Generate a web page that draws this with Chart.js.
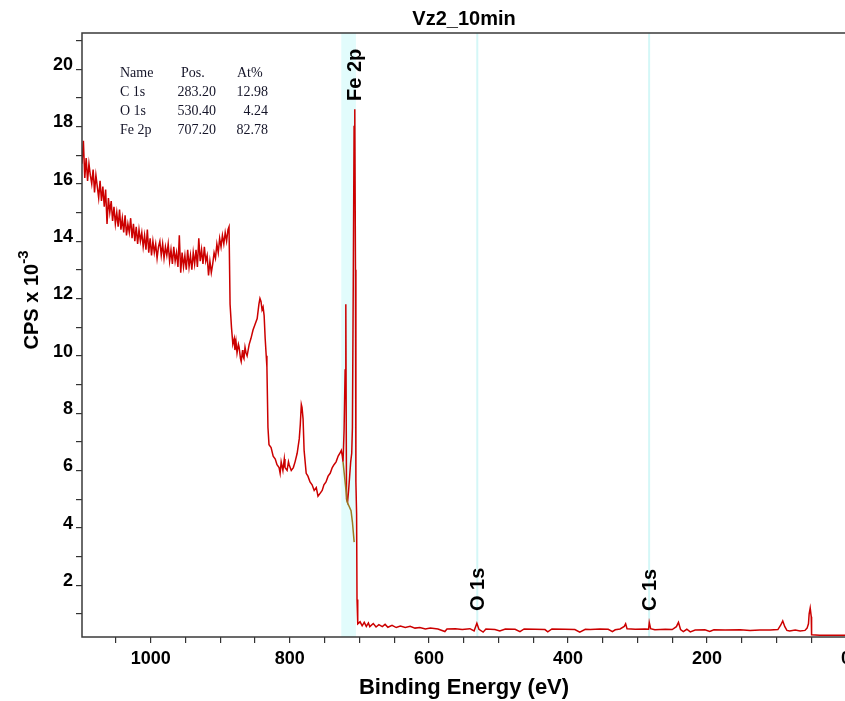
<!DOCTYPE html>
<html>
<head>
<meta charset="utf-8">
<script src="https://cdn.jsdelivr.net/npm/chart.js@4.4.1/dist/chart.umd.min.js"></script>
<style>
  html, body { margin: 0; padding: 0; background: #fff; overflow: hidden; }
  #wrap { position: relative; width: 846px; height: 701px; }
</style>
</head>
<body>
<div id="wrap"><canvas id="xpsChart"></canvas></div>
<script>
// survey spectrum, binding energy (eV) and CPS x 10^-3
const energy = [
  1099, 1097, 1095, 1093, 1091, 1089, 1087, 1085, 1083, 1081, 1079, 1077, 1075, 1073, 1071, 1069,
  1067, 1065, 1063, 1061, 1059, 1057, 1055, 1053, 1051, 1049, 1047, 1045, 1043, 1041, 1039, 1037,
  1035, 1033, 1031, 1029, 1027, 1025, 1023, 1021, 1019, 1017, 1015, 1013, 1011, 1009, 1007, 1005,
  1003, 1001, 999, 997, 995, 993, 991, 989, 987, 985, 983, 981, 979, 977, 975, 973, 971, 969,
  967, 965, 963, 961, 959, 957, 955, 953, 951, 949, 947, 945, 943, 941, 939, 937, 935, 933, 931,
  929, 927, 925, 923, 921, 919, 917, 915, 913, 911, 909, 907, 905, 903, 901, 899, 897, 895, 893,
  891, 889, 887.5, 886, 884, 882, 880, 879, 877.5, 876, 874, 873, 871, 870, 868, 867.5,
  866, 864.5, 863, 861.5, 858.5, 856, 853, 850, 847, 844.5, 843, 841.5, 840, 838.5, 837, 835.5, 834, 833,
  831.5, 830, 827, 824, 821, 818.5, 815.5, 814, 812.5, 810, 808, 807, 804, 802, 801, 798, 795, 792.5, 789.5, 786.5,
  785, 783.5, 782.5, 781, 779.5, 776.5, 774, 771, 768, 765, 762, 759.5, 756.5, 753.5, 751, 748, 745,
  742, 739, 736.5, 733.5, 730.5, 728, 726, 724.5, 723.5, 722, 720.5, 719.5, 718.5, 717, 715.5, 714,
  712.5, 711, 710, 708.8, 707.6, 706.6, 705.6, 705, 704, 703.4, 702.7, 702, 699, 696, 693, 690, 687,
  685, 680, 676, 672, 667, 663, 659, 653, 647, 641, 634, 627, 620, 613, 605, 598, 587, 577, 574, 562,
  552, 541, 535, 531, 528, 522, 518, 505, 498, 490, 476, 469, 463, 447, 433, 429, 423, 404, 390, 383,
  375, 368, 354, 342, 336, 332, 325, 319, 317, 315, 303, 289, 284, 283, 281, 275, 260, 250, 244, 241,
  238, 234, 229, 224, 217, 203, 196, 190, 174, 152, 138, 124, 109, 98, 94, 91, 88, 85, 81, 73, 66,
  59, 56, 54, 53, 51.5, 50, 49.5, 38, 0
];
const cps = [
  16.7, 17.5, 16.2, 16.9, 16.1, 16.7, 16.3, 16.0, 16.5, 15.7, 16.3, 15.9, 15.5, 16.1, 15.4, 15.9,
  15.2, 15.8, 14.6, 15.5, 15.0, 15.4, 14.7, 15.2, 14.6, 15.0, 14.5, 15.1, 14.4, 14.8, 14.3, 14.9,
  14.2, 14.6, 14.3, 14.8, 14.1, 14.6, 14.0, 14.5, 13.9, 14.4, 14.0, 14.3, 13.8, 14.2, 13.7, 14.4,
  13.6, 14.1, 13.5, 14.0, 13.6, 13.9, 13.4, 13.8, 14.0, 13.5, 13.9, 13.4, 13.8, 13.5, 13.9, 13.3, 13.7, 13.2,
  13.8, 13.3, 13.6, 13.1, 14.2, 12.9, 13.6, 13.1, 13.5, 13.0, 13.7, 13.1, 13.5, 13.0, 13.6, 13.2, 13.7, 13.1, 14.1,
  13.3, 13.7, 13.2, 13.8, 13.3, 13.5, 12.8, 13.3, 12.9, 13.2, 13.6, 13.4, 13.9, 13.6, 14.1, 13.8, 14.2, 13.9, 14.3,
  14.0, 14.4, 14.5, 11.8, 11.0, 10.4, 10.6, 10.2, 10.5, 10.1, 10.4, 10.3, 9.9, 9.8, 10.2, 10.0,
  9.9, 10.3, 10.1, 10.0, 10.4, 10.6, 10.9, 11.1, 11.3, 11.8, 12.0, 11.9, 11.6, 11.7, 11.4, 10.6, 10.0, 9.6,
  7.5, 6.9, 6.8, 6.5, 6.4, 6.2, 6.1, 5.9, 6.3, 6.0, 6.4, 6.1, 6.0, 6.3, 6.2, 6.0, 6.1, 6.3, 6.6, 7.1,
  7.6, 8.3, 8.2, 7.8, 6.7, 5.9, 5.8, 5.6, 5.5, 5.3, 5.4, 5.1, 5.2, 5.3, 5.5, 5.6, 5.8,
  5.9, 6.1, 6.2, 6.3, 6.5, 6.6, 6.7, 6.5, 6.3, 7.4, 9.5, 11.8, 5.0, 4.9, 5.3, 5.8,
  6.3, 6.6, 7.5, 12.5, 18.0, 18.6, 13.0, 5.6, 4.5, 1.5, 0.8, 0.65, 0.72, 0.58, 0.70, 0.56, 0.68,
  0.55, 0.66, 0.54, 0.62, 0.55, 0.63, 0.53, 0.60, 0.52, 0.57, 0.52, 0.56, 0.50, 0.52, 0.47, 0.50, 0.47, 0.38, 0.47, 0.48,
  0.45, 0.48, 0.40, 0.67, 0.46, 0.36, 0.47, 0.45, 0.40, 0.47, 0.46, 0.38, 0.47, 0.46, 0.45, 0.37, 0.47, 0.46, 0.45, 0.36,
  0.46, 0.45, 0.47, 0.46, 0.38, 0.44, 0.47, 0.56, 0.65, 0.48, 0.46, 0.47, 0.46, 0.70, 0.48, 0.44, 0.46, 0.45, 0.55, 0.70,
  0.45, 0.38, 0.46, 0.37, 0.43, 0.44, 0.38, 0.44, 0.43, 0.44, 0.42, 0.43, 0.43, 0.45, 0.60, 0.75, 0.55, 0.42, 0.40, 0.43, 0.40,
  0.42, 0.50, 0.65, 1.0, 1.2, 0.9, 0.27, 0.25, 0.25
];

// Fe 2p background line (olive)
const bgEnergy = [723.5, 717.5, 712, 710, 707.5];
const bgCps = [6.3, 4.9, 4.6, 4.2, 3.5];

// quantification table
const peakNames = ['C 1s', 'O 1s', 'Fe 2p'];
const peakPos = [283.20, 530.40, 707.20];
const peakAt = [12.98, 4.24, 82.78];
const fe2pRegion = [705, 726];

const xTickLabels = [0, 200, 400, 600, 800, 1000];
const yTickLabels = [2, 4, 6, 8, 10, 12, 14, 16, 18, 20];

const FONT = "'Liberation Sans', Arial, sans-serif";
const SERIF = "'Liberation Serif', 'Times New Roman', serif";

const decor = {
  id: 'decor',
  beforeDatasetsDraw(chart) {
    const { ctx, chartArea: a, scales: { x } } = chart;
    ctx.save();
    const b0 = x.getPixelForValue(fe2pRegion[1]);
    const b1 = x.getPixelForValue(fe2pRegion[0]);
    ctx.fillStyle = '#e2fcfc';
    ctx.fillRect(b0, a.top, b1 - b0, a.bottom - a.top);
    ctx.strokeStyle = '#d4f7f7';
    ctx.lineWidth = 2;
    [peakPos[0], peakPos[1]].forEach(p => {
      const px = x.getPixelForValue(p);
      ctx.beginPath();
      ctx.moveTo(px, a.top);
      ctx.lineTo(px, a.bottom);
      ctx.stroke();
    });
    ctx.restore();
  },
  afterDatasetsDraw(chart) {
    const { ctx, chartArea: a, scales: { x } } = chart;
    ctx.save();

    // peak labels, written upwards
    const labelBase = [611, 611, 101];
    ctx.fillStyle = '#000';
    ctx.font = 'bold 20px ' + FONT;
    ctx.textAlign = 'left';
    ctx.textBaseline = 'middle';
    peakNames.forEach((name, i) => {
      ctx.save();
      ctx.translate(x.getPixelForValue(peakPos[i]) + 1, labelBase[i]);
      ctx.rotate(-Math.PI / 2);
      ctx.fillText(name, 0, 0);
      ctx.restore();
    });

    // table top-left
    ctx.font = '14px ' + SERIF;
    ctx.fillStyle = '#141428';
    ctx.textBaseline = 'middle';
    ctx.textAlign = 'left';
    ctx.fillText('Name', 120, 73);
    ctx.fillText('Pos.', 181, 73);
    ctx.fillText('At%', 237, 73);
    peakNames.forEach((name, i) => {
      const y = 92 + i * 19;
      ctx.textAlign = 'left';
      ctx.fillText(name, 120, y);
      ctx.textAlign = 'right';
      ctx.fillText(peakPos[i].toFixed(2), 216, y);
      ctx.fillText(peakAt[i].toFixed(2), 268, y);
    });

    // frame
    ctx.strokeStyle = '#3a3a3a';
    ctx.lineWidth = 1.5;
    ctx.strokeRect(a.left, a.top, a.right - a.left, a.bottom - a.top);
    ctx.restore();
  },
  afterDraw(chart) {
    const { ctx, chartArea: a } = chart;
    ctx.save();
    ctx.fillStyle = '#000';
    // title over the plot area
    ctx.font = 'bold 20px ' + FONT;
    ctx.textAlign = 'center';
    ctx.textBaseline = 'middle';
    ctx.fillText('Vz2_10min', (a.left + a.right) / 2, 19);

    // y title with superscript
    const main = 'CPS x 10', sup = '-3';
    ctx.font = 'bold 20px ' + FONT;
    const wMain = ctx.measureText(main).width;
    ctx.font = 'bold 15px ' + FONT;
    const wSup = ctx.measureText(sup).width;
    ctx.translate(32, 300);
    ctx.rotate(-Math.PI / 2);
    ctx.textAlign = 'left';
    const start = -(wMain + wSup) / 2;
    ctx.font = 'bold 20px ' + FONT;
    ctx.fillText(main, start, 0);
    ctx.font = 'bold 15px ' + FONT;
    ctx.fillText(sup, start + wMain, -8);
    ctx.restore();
  }
};

const tickFont = { family: FONT, size: 18, weight: 'bold' };

new Chart(document.getElementById('xpsChart').getContext('2d'), {
  type: 'line',
  data: {
    datasets: [{
      label: 'background',
      data: bgEnergy.map((e, i) => ({ x: e, y: bgCps[i] })),
      borderColor: '#9a7a22',
      borderWidth: 1.5,
      pointRadius: 0,
      order: 0
    }, {
      label: 'Vz2_10min',
      data: energy.map((e, i) => ({ x: e, y: cps[i] })),
      borderColor: '#cc0000',
      borderWidth: 1.5,
      pointRadius: 0,
      tension: 0,
      order: 1
    }]
  },
  options: {
    responsive: true,
    maintainAspectRatio: false,
    animation: false,
    layout: { padding: { top: 33, left: 0, right: 0, bottom: 0 } },
    plugins: {
      legend: { display: false },
      tooltip: { enabled: false },
      title: { display: false }
    },
    scales: {
      x: {
        type: 'linear',
        reverse: true,
        min: 0,
        max: 1099,
        afterBuildTicks(s) {
          s.ticks = [];
          for (let v = 0; v <= 1050; v += 50) s.ticks.push({ value: v });
        },
        afterFit(s) { s.height = 64; },
        ticks: {
          autoSkip: false,
          maxRotation: 0,
          padding: 5,
          color: '#000',
          font: tickFont,
          callback: v => xTickLabels.includes(v) ? String(v) : ''
        },
        grid: { drawOnChartArea: false, drawTicks: true, tickLength: 6, color: '#333', lineWidth: 1.2 },
        border: { display: false },
        title: {
          display: true,
          text: 'Binding Energy (eV)',
          color: '#000',
          font: { family: FONT, size: 22, weight: 'bold' },
          padding: { top: 0, bottom: 0 }
        }
      },
      y: {
        type: 'linear',
        min: 0.19,
        max: 21.26,
        afterBuildTicks(s) {
          s.ticks = [];
          for (let v = 1; v <= 21; v++) s.ticks.push({ value: v });
        },
        afterFit(s) { s.width = 82; },
        ticks: {
          autoSkip: false,
          padding: 3,
          labelOffset: -4,
          color: '#000',
          font: tickFont,
          callback: v => yTickLabels.includes(v) ? String(v) : ''
        },
        grid: { drawOnChartArea: false, drawTicks: true, tickLength: 6, color: '#333', lineWidth: 1.2 },
        border: { display: false }
      }
    }
  },
  plugins: [decor]
});
</script>
</body>
</html>
